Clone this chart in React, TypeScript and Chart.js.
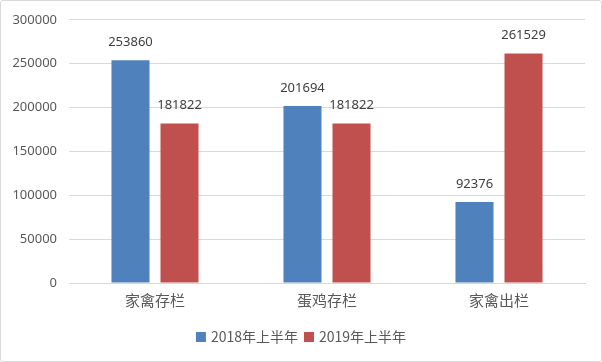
import React, { useEffect, useRef } from "react";
import { Chart, registerables } from "chart.js";

Chart.register(...registerables);

const categories = ["家禽存栏", "蛋鸡存栏", "家禽出栏"];
const seriesNames = ["2018年上半年", "2019年上半年"];
const series2018 = [253860, 201694, 92376];
const series2019 = [181822, 181822, 261529];
const seriesColors = ["#4F81BD", "#C0504D"];
const yMin = 0;
const yMax = 300000;
const yStep = 50000;

const NUM_FONT = '"Noto Sans", "Noto Sans CJK SC", sans-serif';
const CJK_FONT = '"Noto Sans CJK SC", "Noto Sans", sans-serif';

const dataLabelPlugin = {
  id: "dataLabels",
  afterDatasetsDraw(chart: any) {
    const ctx = chart.ctx;
    ctx.save();
    ctx.font = `13px ${NUM_FONT}`;
    ctx.fillStyle = "#404040";
    ctx.textAlign = "center";
    ctx.textBaseline = "middle";
    chart.data.datasets.forEach((ds: any, i: number) => {
      const meta = chart.getDatasetMeta(i);
      meta.data.forEach((el: any, j: number) => {
        ctx.fillText(String(ds.data[j]), el.x, el.y - 18);
      });
    });
    ctx.restore();
  },
};

const legendPlugin = {
  id: "customLegend",
  afterDraw(chart: any) {
    const ctx = chart.ctx;
    ctx.save();
    ctx.font = `14px ${CJK_FONT}`;
    const box = 10;
    const gap = 5;
    const spacing = 6;
    const items = chart.data.datasets.map((ds: any) => ({
      label: ds.label,
      color: ds.backgroundColor,
      w: ctx.measureText(ds.label).width,
    }));
    let total = 0;
    items.forEach((it: any, i: number) => {
      total += box + gap + it.w + (i < items.length - 1 ? spacing : 0);
    });
    let x = chart.width / 2 - total / 2;
    const cy = 337;
    ctx.textBaseline = "middle";
    ctx.textAlign = "left";
    items.forEach((it: any) => {
      ctx.fillStyle = it.color;
      ctx.fillRect(x, cy - box / 2, box, box);
      x += box + gap;
      ctx.fillStyle = "#595959";
      ctx.fillText(it.label, x, cy);
      x += it.w + spacing;
    });
    ctx.restore();
  },
};

export default function App() {
  const ref = useRef<HTMLCanvasElement | null>(null);

  useEffect(() => {
    document.body.style.margin = "0";
    if (!ref.current) return;
    const chart = new Chart(ref.current, {
      type: "bar",
      data: {
        labels: categories,
        datasets: [
          {
            label: seriesNames[0],
            data: series2018,
            backgroundColor: seriesColors[0],
            categoryPercentage: 0.57,
            barPercentage: 0.776,
          },
          {
            label: seriesNames[1],
            data: series2019,
            backgroundColor: seriesColors[1],
            categoryPercentage: 0.57,
            barPercentage: 0.776,
          },
        ],
      },
      options: {
        animation: false,
        responsive: false,
        maintainAspectRatio: false,
        layout: { padding: { left: 0, right: 17, top: 19, bottom: 49 } },
        plugins: {
          legend: { display: false },
          tooltip: { enabled: false },
        },
        scales: {
          x: {
            grid: { display: false, drawTicks: false },
            border: { display: true, color: "#D9D9D9", width: 1 },
            ticks: {
              color: "#595959",
              font: { family: CJK_FONT, size: 15 },
              padding: 8,
            },
            afterFit(scale: any) {
              scale.height = 30;
            },
          },
          y: {
            min: yMin,
            max: yMax,
            grid: { color: "#D9D9D9", drawTicks: false },
            border: { display: false },
            ticks: {
              stepSize: yStep,
              color: "#595959",
              font: { family: NUM_FONT, size: 13 },
              padding: 12,
              callback: (v: any) => String(v),
            },
            afterFit(scale: any) {
              scale.width = 69;
            },
          },
        },
      },
      plugins: [dataLabelPlugin, legendPlugin],
    });
    return () => chart.destroy();
  }, []);

  return (
    <div style={{ position: "relative", width: 602, height: 362, background: "#fff" }}>
      <canvas ref={ref} width={602} height={362} style={{ display: "block" }} />
      <div
        style={{
          position: "absolute",
          left: 0,
          top: 0,
          width: 602,
          height: 362,
          boxSizing: "border-box",
          border: "1px solid #D9D9D9",
          borderRadius: 3,
          pointerEvents: "none",
        }}
      />
    </div>
  );
}
